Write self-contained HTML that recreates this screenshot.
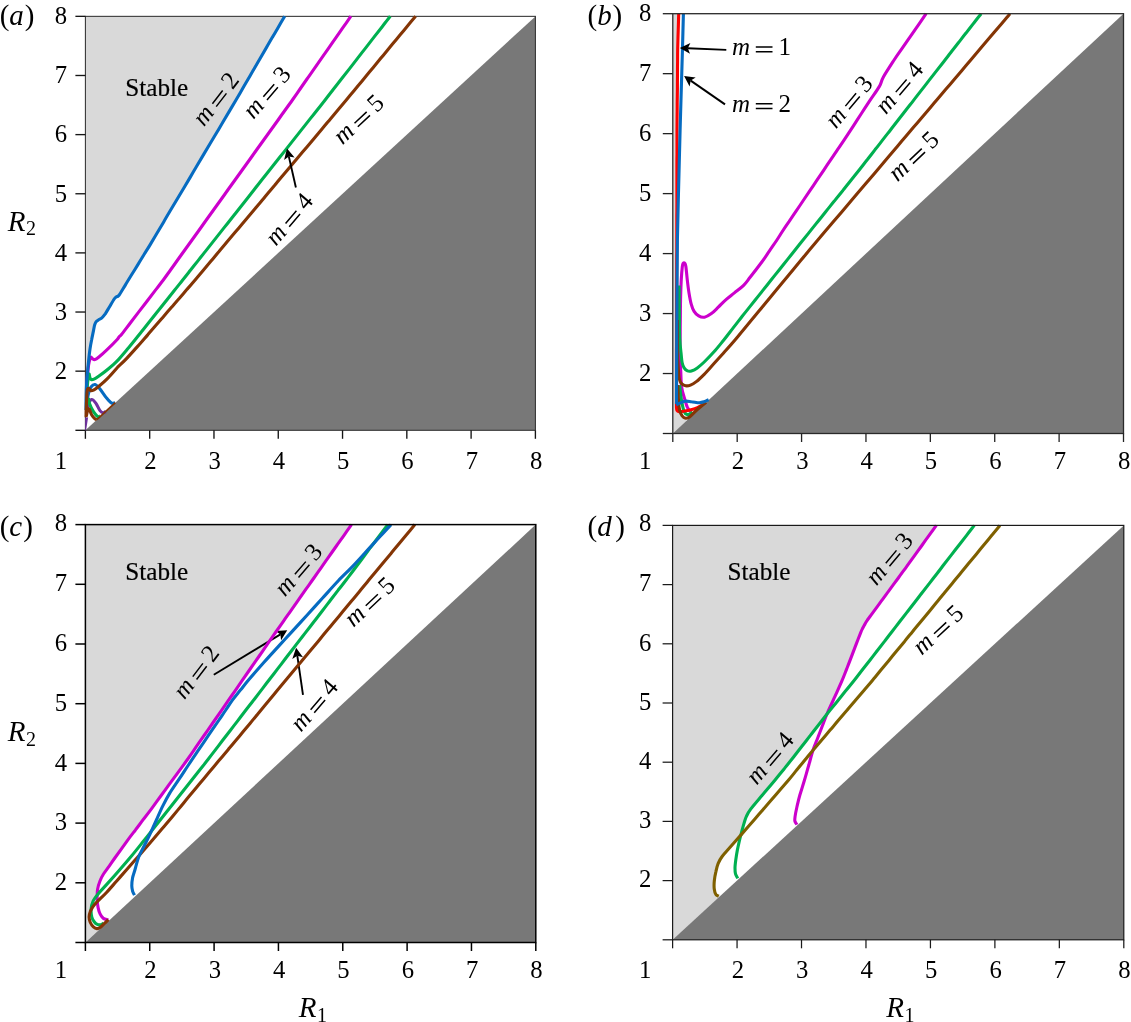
<!DOCTYPE html>
<html><head><meta charset="utf-8"><title>Stability diagrams</title>
<style>html,body{margin:0;padding:0;background:#fff}svg{display:block;will-change:transform;transform:translateZ(0)}text{font-family:"Liberation Serif", serif;fill:#000}</style></head><body>
<svg width="1131" height="1022" viewBox="0 0 1131 1022">
<rect width="1131" height="1022" fill="#fff"/>
<polygon points="85.4,16.4 284.7,16.2 236.0,100.0 150.5,244.1 119.0,295.3 116.2,296.9 114.2,299.0 109.4,307.0 105.3,313.8 101.9,317.9 98.4,319.9 96.0,321.9 94.7,324.8 93.3,331.6 91.6,340.0 90.0,349.0 88.7,359.9 87.6,371.6 86.7,381.9 86.2,394.8 86.0,410.0 85.4,430.3 85.4,16.4" fill="#d9d9d9"/>
<polygon points="85.4,430.3 535.4,16.4 535.4,430.3" fill="#787878"/>
<rect x="85.40" y="16.35" width="450.00" height="413.95" fill="none" stroke="#303030" stroke-width="1.05"/>
<line x1="85.40" y1="430.30" x2="85.40" y2="438.80" stroke="#151515" stroke-width="1.35"/>
<line x1="75.40" y1="430.30" x2="85.40" y2="430.30" stroke="#151515" stroke-width="1.35"/>
<line x1="149.69" y1="430.30" x2="149.69" y2="438.80" stroke="#151515" stroke-width="1.35"/>
<line x1="75.40" y1="371.16" x2="85.40" y2="371.16" stroke="#151515" stroke-width="1.35"/>
<line x1="213.97" y1="430.30" x2="213.97" y2="438.80" stroke="#151515" stroke-width="1.35"/>
<line x1="75.40" y1="312.03" x2="85.40" y2="312.03" stroke="#151515" stroke-width="1.35"/>
<line x1="278.26" y1="430.30" x2="278.26" y2="438.80" stroke="#151515" stroke-width="1.35"/>
<line x1="75.40" y1="252.89" x2="85.40" y2="252.89" stroke="#151515" stroke-width="1.35"/>
<line x1="342.54" y1="430.30" x2="342.54" y2="438.80" stroke="#151515" stroke-width="1.35"/>
<line x1="75.40" y1="193.76" x2="85.40" y2="193.76" stroke="#151515" stroke-width="1.35"/>
<line x1="406.83" y1="430.30" x2="406.83" y2="438.80" stroke="#151515" stroke-width="1.35"/>
<line x1="75.40" y1="134.62" x2="85.40" y2="134.62" stroke="#151515" stroke-width="1.35"/>
<line x1="471.11" y1="430.30" x2="471.11" y2="438.80" stroke="#151515" stroke-width="1.35"/>
<line x1="75.40" y1="75.49" x2="85.40" y2="75.49" stroke="#151515" stroke-width="1.35"/>
<line x1="535.40" y1="430.30" x2="535.40" y2="438.80" stroke="#151515" stroke-width="1.35"/>
<line x1="75.40" y1="16.35" x2="85.40" y2="16.35" stroke="#151515" stroke-width="1.35"/>
<text x="150.4" y="469.2" text-anchor="middle" font-size="24.7">2</text>
<text x="214.7" y="469.2" text-anchor="middle" font-size="24.7">3</text>
<text x="279.0" y="469.2" text-anchor="middle" font-size="24.7">4</text>
<text x="343.2" y="469.2" text-anchor="middle" font-size="24.7">5</text>
<text x="407.5" y="469.2" text-anchor="middle" font-size="24.7">6</text>
<text x="471.8" y="469.2" text-anchor="middle" font-size="24.7">7</text>
<text x="536.1" y="469.2" text-anchor="middle" font-size="24.7">8</text>
<text x="67.0" y="469.2" text-anchor="end" font-size="24.7">1</text>
<text x="67.0" y="378.9" text-anchor="end" font-size="24.7">2</text>
<text x="67.0" y="319.7" text-anchor="end" font-size="24.7">3</text>
<text x="67.0" y="260.6" text-anchor="end" font-size="24.7">4</text>
<text x="67.0" y="201.5" text-anchor="end" font-size="24.7">5</text>
<text x="67.0" y="142.3" text-anchor="end" font-size="24.7">6</text>
<text x="67.0" y="83.2" text-anchor="end" font-size="24.7">7</text>
<text x="67.0" y="23.5" text-anchor="end" font-size="24.7">8</text>
<path d="M350.9,16.2 C349.7,17.9 346.0,23.2 343.6,26.7 C341.1,30.2 338.7,33.7 336.3,37.1 C333.8,40.6 331.4,44.1 329.0,47.6 C326.5,51.1 324.1,54.6 321.6,58.1 C319.2,61.6 316.8,65.1 314.3,68.6 C311.9,72.1 309.5,75.6 307.0,79.0 C304.6,82.5 302.1,86.0 299.7,89.5 C297.3,93.0 294.8,96.6 292.4,100.0 C290.0,103.4 287.6,106.7 285.2,110.0 C282.8,113.3 280.4,116.7 278.1,120.0 C275.7,123.3 273.3,126.7 270.9,130.0 C268.5,133.3 266.1,136.7 263.7,140.0 C261.3,143.3 258.9,146.7 256.5,150.0 C254.1,153.3 251.8,156.7 249.4,160.0 C247.0,163.3 244.6,166.7 242.2,170.0 C239.8,173.3 237.4,176.7 235.0,180.0 C232.6,183.3 230.2,186.7 227.8,190.0 C225.5,193.3 223.1,196.7 220.7,200.0 C218.3,203.3 215.9,206.7 213.5,210.0 C211.1,213.3 208.7,216.7 206.3,220.0 C203.9,223.3 201.6,226.7 199.2,230.0 C196.8,233.3 194.4,236.7 192.0,240.0 C189.6,243.3 187.2,246.7 184.8,250.0 C182.4,253.3 180.0,256.7 177.6,260.0 C175.3,263.3 172.9,266.7 170.5,270.0 C168.1,273.3 165.9,276.5 163.3,280.0 C160.7,283.5 157.7,287.3 154.9,290.9 C152.2,294.5 149.4,298.1 146.6,301.8 C143.8,305.4 141.0,309.0 138.2,312.6 C135.4,316.3 132.6,319.9 129.9,323.5 C127.1,327.1 123.3,332.2 121.5,334.4 C119.7,336.6 119.7,336.0 119.0,336.9 C118.3,337.8 119.0,337.5 117.2,339.5 C115.4,341.5 111.0,345.9 107.9,348.8 C104.8,351.8 100.8,355.4 98.6,357.2 C96.4,359.0 95.9,359.3 94.9,359.6 C93.9,359.9 93.2,359.2 92.6,358.8 C91.9,358.4 91.5,356.9 91.0,357.0 C90.5,357.1 90.2,358.2 89.8,359.5 C89.4,360.8 89.0,362.6 88.6,365.0 C88.2,367.4 87.9,370.5 87.6,374.0 C87.3,377.5 86.9,384.0 86.8,386.0" fill="none" stroke="#cc00cc" stroke-width="3.10" stroke-linecap="butt" stroke-linejoin="round"/>
<path d="M390.3,16.2 C388.9,17.9 384.9,23.2 382.2,26.7 C379.4,30.2 376.7,33.7 374.0,37.1 C371.3,40.6 368.6,44.1 365.9,47.6 C363.1,51.1 360.4,54.6 357.7,58.1 C355.0,61.6 352.3,65.1 349.6,68.6 C346.8,72.1 344.1,75.6 341.4,79.0 C338.7,82.5 336.0,86.0 333.2,89.5 C330.5,93.0 327.7,96.7 325.1,100.0 C322.5,103.3 320.1,106.3 317.6,109.5 C315.1,112.6 312.6,115.8 310.1,118.9 C307.6,122.1 305.1,125.3 302.6,128.4 C300.1,131.6 297.6,134.7 295.1,137.9 C292.6,141.1 290.1,144.2 287.6,147.4 C285.1,150.5 282.6,153.7 280.1,156.8 C277.6,160.0 275.1,163.2 272.6,166.3 C270.1,169.5 267.6,172.6 265.1,175.8 C262.6,178.9 260.1,182.1 257.6,185.3 C255.1,188.4 252.7,191.6 250.2,194.7 C247.7,197.9 245.2,201.1 242.7,204.2 C240.2,207.4 237.7,210.5 235.2,213.7 C232.7,216.8 230.2,220.0 227.7,223.2 C225.2,226.3 222.7,229.5 220.2,232.6 C217.7,235.8 215.2,238.9 212.7,242.1 C210.2,245.3 207.7,248.4 205.2,251.6 C202.7,254.7 200.2,257.9 197.7,261.1 C195.2,264.2 192.7,267.4 190.2,270.5 C187.7,273.7 185.3,276.8 182.7,280.0 C180.1,283.2 177.4,286.7 174.7,290.0 C172.1,293.3 169.4,296.7 166.8,300.0 C164.1,303.3 161.5,306.7 158.8,310.0 C156.1,313.3 153.5,316.7 150.8,320.0 C148.2,323.3 145.5,326.7 142.9,330.0 C140.2,333.3 137.6,336.6 134.9,340.0 C132.2,343.4 129.4,346.7 126.5,350.2 C123.5,353.7 120.3,357.7 117.2,360.9 C114.1,364.1 111.0,366.7 107.9,369.3 C104.8,371.9 100.9,374.7 98.6,376.3 C96.3,377.9 95.2,378.6 94.0,379.1 C92.8,379.6 91.9,379.8 91.2,379.5 C90.5,379.2 90.1,378.1 89.8,377.2 C89.5,376.3 89.4,374.1 89.2,374.0 C89.0,373.9 88.7,375.0 88.4,376.5 C88.1,378.0 87.9,380.1 87.6,383.0 C87.3,385.9 86.9,392.2 86.8,394.0" fill="none" stroke="#00b050" stroke-width="3.10" stroke-linecap="butt" stroke-linejoin="round"/>
<path d="M284.7,16.2 C283.7,17.9 280.6,23.2 278.6,26.7 C276.6,30.2 274.6,33.7 272.5,37.1 C270.5,40.6 268.5,44.1 266.4,47.6 C264.4,51.1 262.4,54.6 260.4,58.1 C258.3,61.6 256.3,65.1 254.3,68.6 C252.2,72.1 250.2,75.6 248.2,79.0 C246.1,82.5 244.1,86.0 242.1,89.5 C240.1,93.0 238.1,96.4 236.0,100.0 C233.9,103.6 231.6,107.4 229.4,111.1 C227.2,114.8 225.0,118.5 222.8,122.2 C220.7,125.9 218.5,129.6 216.3,133.3 C214.1,136.9 211.9,140.6 209.7,144.3 C207.5,148.0 205.3,151.7 203.1,155.4 C200.9,159.1 198.7,162.8 196.5,166.5 C194.3,170.2 192.2,173.9 190.0,177.6 C187.8,181.3 185.6,185.0 183.4,188.7 C181.2,192.4 179.0,196.1 176.8,199.8 C174.6,203.5 172.4,207.2 170.2,210.8 C168.0,214.5 165.8,218.2 163.7,221.9 C161.5,225.6 159.3,229.3 157.1,233.0 C154.9,236.7 152.6,240.5 150.5,244.1 C148.4,247.7 146.3,250.9 144.2,254.3 C142.1,257.8 140.0,261.2 137.9,264.6 C135.8,268.0 133.7,271.4 131.6,274.8 C129.5,278.2 127.4,281.6 125.3,285.1 C123.2,288.5 120.5,293.3 119.0,295.3 C117.5,297.3 117.0,296.3 116.2,296.9 C115.4,297.5 115.3,297.3 114.2,299.0 C113.1,300.7 110.9,304.5 109.4,307.0 C107.9,309.5 106.5,312.0 105.3,313.8 C104.0,315.6 103.1,316.9 101.9,317.9 C100.8,318.9 99.4,319.2 98.4,319.9 C97.4,320.6 96.6,321.1 96.0,321.9 C95.4,322.7 95.2,323.2 94.7,324.8 C94.2,326.4 93.8,329.1 93.3,331.6 C92.8,334.1 92.1,337.1 91.6,340.0 C91.0,342.9 90.5,345.7 90.0,349.0 C89.5,352.3 89.1,356.1 88.7,359.9 C88.3,363.7 87.9,367.9 87.6,371.6 C87.3,375.3 86.9,378.0 86.7,381.9 C86.5,385.8 86.3,390.1 86.2,394.8 C86.1,399.5 86.0,407.5 86.0,410.0" fill="none" stroke="#066bc1" stroke-width="3.10" stroke-linecap="butt" stroke-linejoin="round"/>
<path d="M87.0,402.0 C87.3,400.5 87.9,395.5 88.6,393.0 C89.3,390.5 89.9,388.4 91.0,387.0 C92.1,385.6 93.5,384.2 95.0,384.5 C96.5,384.8 98.1,386.7 100.0,389.0 C101.9,391.3 104.7,395.8 106.6,398.1 C108.5,400.5 110.2,402.4 111.6,403.1 C113.0,403.9 114.4,402.7 114.9,402.6" fill="none" stroke="#066bc1" stroke-width="3.10" stroke-linecap="butt" stroke-linejoin="round"/>
<path d="M86.6,413.0 C86.9,411.7 87.4,407.2 88.2,405.0 C89.0,402.8 90.3,399.8 91.6,399.5 C92.9,399.2 94.4,401.2 95.8,403.1 C97.2,405.0 98.8,409.0 100.0,410.6 C101.2,412.2 102.3,412.7 103.3,412.8 C104.3,412.9 105.4,411.6 105.8,411.4" fill="none" stroke="#7030a0" stroke-width="3.10" stroke-linecap="butt" stroke-linejoin="round"/>
<path d="M88.4,398.0 C88.6,398.9 88.5,400.9 89.3,403.1 C90.1,405.3 91.9,409.2 93.3,411.4 C94.7,413.6 96.4,415.6 97.5,416.4 C98.6,417.2 99.6,416.1 100.0,416.0" fill="none" stroke="#00b050" stroke-width="3.10" stroke-linecap="butt" stroke-linejoin="round"/>
<path d="M415.6,16.2 C414.3,17.8 410.5,22.4 407.9,25.5 C405.3,28.6 402.8,31.7 400.2,34.8 C397.6,37.9 395.1,41.0 392.5,44.1 C389.9,47.2 387.4,50.3 384.8,53.4 C382.2,56.5 379.7,59.7 377.1,62.8 C374.5,65.9 372.0,69.0 369.4,72.1 C366.8,75.2 364.3,78.3 361.7,81.4 C359.1,84.5 356.6,87.6 354.0,90.7 C351.4,93.8 348.9,96.9 346.3,100.0 C343.7,103.1 341.0,106.3 338.3,109.5 C335.7,112.6 333.0,115.8 330.4,118.9 C327.7,122.1 325.1,125.3 322.4,128.4 C319.8,131.6 317.1,134.7 314.5,137.9 C311.8,141.1 309.2,144.2 306.5,147.4 C303.9,150.5 301.2,153.7 298.6,156.8 C295.9,160.0 293.2,163.2 290.6,166.3 C287.9,169.5 285.3,172.6 282.6,175.8 C280.0,178.9 277.3,182.1 274.7,185.3 C272.0,188.4 269.4,191.6 266.7,194.7 C264.1,197.9 261.4,201.1 258.8,204.2 C256.1,207.4 253.5,210.5 250.8,213.7 C248.2,216.8 245.5,220.0 242.8,223.2 C240.2,226.3 237.5,229.5 234.9,232.6 C232.2,235.8 229.6,238.9 226.9,242.1 C224.3,245.3 221.6,248.4 219.0,251.6 C216.3,254.7 213.7,257.9 211.0,261.1 C208.4,264.2 205.7,267.4 203.1,270.5 C200.4,273.7 197.7,276.9 195.1,280.0 C192.5,283.1 189.9,286.1 187.2,289.1 C184.6,292.1 182.0,295.2 179.4,298.2 C176.7,301.2 174.1,304.3 171.5,307.3 C168.9,310.3 166.2,313.4 163.6,316.4 C161.0,319.4 158.4,322.5 155.7,325.5 C153.1,328.5 150.5,331.6 147.9,334.6 C145.2,337.6 143.6,339.7 140.0,343.7 C136.4,347.7 130.1,354.8 126.5,358.6 C122.9,362.4 119.8,365.0 118.2,366.6 C116.6,368.2 118.5,366.3 116.8,368.2 C115.1,370.1 110.9,375.1 107.9,378.1 C104.9,381.2 100.9,384.6 98.6,386.5 C96.3,388.4 95.3,389.1 94.0,389.8 C92.7,390.5 91.5,390.9 90.7,390.7 C89.9,390.5 89.8,389.0 89.3,388.6 C88.8,388.2 88.3,388.0 87.9,388.6 C87.5,389.2 87.2,389.4 87.0,392.1 C86.8,394.9 86.6,400.9 86.4,405.1 C86.2,409.3 86.1,415.2 86.1,417.2" fill="none" stroke="#843505" stroke-width="3.10" stroke-linecap="butt" stroke-linejoin="round"/>
<path d="M86.4,416.0 C86.6,415.1 87.1,411.7 87.6,410.5 C88.0,409.3 88.4,408.2 89.1,408.9 C89.8,409.6 90.6,413.1 91.6,414.8 C92.6,416.5 94.1,418.1 95.0,418.9 C95.9,419.7 96.5,419.5 96.8,419.6" fill="none" stroke="#843505" stroke-width="3.10" stroke-linecap="butt" stroke-linejoin="round"/>
<path d="M96.8,419.6 L115.3,402.6" fill="none" stroke="#843505" stroke-width="1.80" stroke-linecap="butt" stroke-linejoin="round"/>
<polygon points="85.2,417.5 88.1,417.5 86.1,430.3 85.2,430.3" fill="#7030a0"/>
<text x="125.3" y="96.0" font-size="25.2" stroke="#000" stroke-width="0.2">Stable</text>
<g transform="translate(203.9,127.3) rotate(-52.3)">
<text x="0" y="0" font-style="italic" font-size="25">m</text>
<path d="M23.9,-7.7 H40.6 M23.9,-2.9 H40.6" stroke="#000" stroke-width="1.5" fill="none"/>
<text x="46.7" y="0" font-size="25">2</text>
</g>
<g transform="translate(253.6,120.0) rotate(-49.3)">
<text x="0" y="0" font-style="italic" font-size="25">m</text>
<path d="M23.9,-7.7 H40.6 M23.9,-2.9 H40.6" stroke="#000" stroke-width="1.5" fill="none"/>
<text x="46.7" y="0" font-size="25">3</text>
</g>
<g transform="translate(342.4,145.3) rotate(-43.3)">
<text x="0" y="0" font-style="italic" font-size="25">m</text>
<path d="M23.9,-7.7 H40.6 M23.9,-2.9 H40.6" stroke="#000" stroke-width="1.5" fill="none"/>
<text x="46.7" y="0" font-size="25">5</text>
</g>
<g transform="translate(275.9,246.7) rotate(-49.5)">
<text x="0" y="0" font-style="italic" font-size="25">m</text>
<path d="M23.9,-7.7 H40.6 M23.9,-2.9 H40.6" stroke="#000" stroke-width="1.5" fill="none"/>
<text x="46.7" y="0" font-size="25">4</text>
</g>
<line x1="295.9" y1="187.5" x2="288.8" y2="156.4" stroke="#000" stroke-width="1.90"/>
<polygon points="287.0,148.6 294.6,157.5 288.8,156.4 284.1,159.9" fill="#000"/>
<polygon points="672.8,13.7 678.7,13.7 676.8,240.0 676.5,400.0 676.7,410.9 682.6,416.0 686.5,420.8 672.8,433.5" fill="#d9d9d9"/>
<polygon points="672.8,433.5 1123.5,13.7 1123.5,433.5" fill="#787878"/>
<path d="M926.1,13.7 C924.8,15.6 920.8,21.4 918.1,25.3 C915.4,29.1 912.8,33.0 910.1,36.8 C907.4,40.7 904.8,44.6 902.1,48.4 C899.4,52.3 897.2,55.2 894.1,60.0 C891.0,64.8 885.9,72.6 883.4,77.0 C880.9,81.4 881.7,82.5 879.4,86.4 C877.1,90.4 872.8,96.2 869.8,100.7 C866.8,105.2 864.2,109.2 861.4,113.5 C858.6,117.8 855.9,122.0 853.1,126.3 C850.3,130.6 847.3,135.2 844.7,139.1 C842.1,143.0 840.1,146.0 837.7,149.4 C835.4,152.9 833.1,156.3 830.8,159.7 C828.4,163.2 826.1,166.6 823.8,170.1 C821.5,173.5 819.2,176.9 816.8,180.4 C814.5,183.8 812.2,187.3 809.9,190.7 C807.5,194.2 805.2,197.6 802.9,201.0 C800.6,204.5 798.3,207.9 795.9,211.4 C793.6,214.8 791.3,218.2 789.0,221.7 C786.6,225.1 784.0,228.9 782.0,232.0 C780.0,235.1 779.0,236.8 776.9,240.0 C774.8,243.2 771.9,247.3 769.5,250.9 C767.0,254.5 765.2,257.5 762.0,261.8 C758.8,266.1 753.6,272.9 750.5,276.8 C747.4,280.7 746.3,282.7 743.6,285.4 C740.9,288.1 737.5,290.4 734.4,292.9 C731.3,295.4 727.9,297.9 725.2,300.3 C722.5,302.7 720.6,305.0 718.3,307.2 C716.0,309.4 713.7,311.9 711.4,313.6 C709.1,315.3 706.6,316.8 704.5,317.2 C702.4,317.6 700.4,316.9 698.7,315.9 C697.0,314.9 695.3,313.2 694.1,311.3 C692.9,309.4 692.1,307.5 691.3,304.4 C690.4,301.3 689.7,297.1 689.0,292.9 C688.3,288.7 687.7,283.5 687.2,279.1 C686.7,274.8 686.3,269.4 685.9,266.8 C685.5,264.2 685.2,264.1 684.9,263.4 C684.6,262.7 684.3,262.8 684.0,262.8 C683.7,262.8 683.4,262.7 683.1,263.4 C682.8,264.1 682.6,264.2 682.3,266.8 C682.0,269.4 681.6,274.0 681.3,279.1 C681.0,284.2 680.8,290.6 680.6,297.5 C680.4,304.4 680.4,314.6 680.3,320.5 C680.2,326.4 680.2,328.7 680.2,332.8 C680.1,336.9 680.1,341.0 680.0,345.1 C680.0,349.2 679.8,352.9 679.9,357.4 C680.0,361.9 680.5,367.3 680.8,372.2 C681.0,377.1 681.0,382.6 681.6,387.0 C682.2,391.4 683.6,395.4 684.6,398.8 C685.6,402.2 686.4,405.4 687.5,407.6 C688.6,409.8 690.4,411.3 691.0,412.0" fill="none" stroke="#cc00cc" stroke-width="3.10" stroke-linecap="butt" stroke-linejoin="round"/>
<path d="M981.1,13.7 C979.8,15.3 976.1,20.2 973.5,23.4 C971.0,26.6 968.5,29.9 966.0,33.1 C963.4,36.3 960.9,39.6 958.4,42.8 C955.9,46.1 953.3,49.3 950.8,52.5 C948.3,55.8 945.8,59.0 943.3,62.2 C940.7,65.5 938.2,68.7 935.7,71.9 C933.2,75.2 930.6,78.4 928.1,81.6 C925.6,84.9 923.1,88.1 920.5,91.4 C918.0,94.6 915.5,97.8 913.0,101.1 C910.5,104.3 907.9,107.5 905.4,110.8 C902.9,114.0 900.4,117.2 897.8,120.5 C895.3,123.7 892.8,126.9 890.3,130.2 C887.8,133.4 885.2,136.6 882.7,139.9 C880.2,143.1 877.7,146.4 875.1,149.6 C872.6,152.8 870.1,156.1 867.6,159.3 C865.0,162.5 862.7,165.6 860.0,169.0 C857.3,172.4 854.3,176.1 851.4,179.7 C848.6,183.2 845.7,186.8 842.9,190.4 C840.0,193.9 837.1,197.5 834.3,201.1 C831.4,204.6 828.6,208.2 825.7,211.7 C822.9,215.3 820.0,218.9 817.1,222.4 C814.3,226.0 811.4,229.6 808.6,233.1 C805.7,236.7 802.8,240.3 800.0,243.8 C797.2,247.3 794.5,250.7 791.7,254.2 C789.0,257.6 786.2,261.1 783.5,264.5 C780.7,268.0 778.0,271.4 775.2,274.9 C772.5,278.3 769.7,281.8 767.0,285.2 C764.2,288.7 761.5,292.1 758.7,295.6 C756.0,299.0 753.2,302.5 750.5,305.9 C747.7,309.4 745.1,312.6 742.2,316.3 C739.3,320.0 736.1,324.2 733.0,328.1 C729.9,332.1 727.0,336.1 723.8,340.0 C720.6,343.9 717.3,348.1 714.0,351.8 C710.7,355.5 707.0,359.3 704.2,362.0 C701.4,364.7 699.4,366.4 697.3,367.9 C695.2,369.4 693.0,370.4 691.4,370.9 C689.8,371.4 688.7,371.4 687.5,370.9 C686.3,370.4 685.0,369.3 684.1,367.9 C683.2,366.5 682.6,364.7 682.1,362.5 C681.6,360.3 681.5,357.6 681.2,354.7 C680.9,351.8 680.5,348.5 680.2,344.9 C679.9,341.2 679.6,337.4 679.5,332.8 C679.4,328.2 679.4,322.3 679.4,317.0 C679.3,311.8 679.3,306.5 679.2,301.3 C679.2,296.0 679.1,288.1 679.1,285.5" fill="none" stroke="#00b050" stroke-width="3.10" stroke-linecap="butt" stroke-linejoin="round"/>
<path d="M679.7,385.1 C679.9,386.7 680.3,391.7 680.7,394.8 C681.1,397.9 681.5,400.9 682.1,403.7 C682.7,406.5 683.3,409.7 684.1,411.5 C684.9,413.3 685.9,414.3 687.0,414.6 C688.1,414.9 689.6,413.9 690.5,413.5 C691.4,413.1 692.2,412.2 692.5,411.9" fill="none" stroke="#00b050" stroke-width="3.10" stroke-linecap="butt" stroke-linejoin="round"/>
<path d="M678.7,13.7 C678.6,16.6 678.4,25.1 678.2,30.8 C678.0,36.6 677.8,42.9 677.7,48.0 C677.6,53.1 677.6,57.1 677.6,61.7 C677.5,66.2 677.5,70.8 677.5,75.3 C677.4,79.9 677.4,84.4 677.4,89.0 C677.3,93.6 677.3,98.1 677.2,102.7 C677.2,107.2 677.2,111.8 677.1,116.3 C677.1,120.9 677.0,125.7 677.0,130.0 C677.0,134.3 677.0,138.1 677.0,142.2 C677.0,146.3 677.0,150.4 677.0,154.4 C676.9,158.5 676.9,162.6 676.9,166.7 C676.9,170.7 676.9,174.8 676.9,178.9 C676.9,183.0 676.9,187.0 676.9,191.1 C676.9,195.2 676.9,199.3 676.9,203.3 C676.9,207.4 676.9,211.5 676.8,215.6 C676.8,219.6 676.8,223.7 676.8,227.8 C676.8,231.9 676.8,236.0 676.8,240.0 C676.8,244.0 676.8,248.0 676.8,252.0 C676.7,256.0 676.7,260.0 676.7,264.0 C676.7,268.0 676.7,272.0 676.7,276.0 C676.7,280.0 676.7,284.0 676.6,288.0 C676.6,292.0 676.6,295.9 676.6,300.0 C676.6,304.1 676.6,308.3 676.6,312.5 C676.6,316.7 676.6,320.8 676.6,325.0 C676.6,329.2 676.6,333.3 676.6,337.5 C676.6,341.7 676.6,345.8 676.5,350.0 C676.5,354.2 676.5,358.3 676.5,362.5 C676.5,366.7 676.5,370.8 676.5,375.0 C676.5,379.2 676.5,383.3 676.5,387.5 C676.5,391.7 676.5,396.7 676.5,400.0 C676.5,403.3 676.4,405.7 676.5,407.5 C676.6,409.3 676.6,409.9 677.0,410.6 C677.4,411.3 677.7,411.5 679.0,411.6 C680.3,411.7 682.8,411.4 685.0,411.0 C687.2,410.6 689.8,410.1 692.0,409.5 C694.2,408.9 696.4,408.0 698.0,407.3 C699.6,406.6 700.9,405.8 701.5,405.5" fill="none" stroke="#ff0000" stroke-width="3.10" stroke-linecap="butt" stroke-linejoin="round"/>
<path d="M1010.0,13.7 C1008.7,15.3 1004.7,20.0 1002.0,23.2 C999.3,26.3 996.6,29.5 994.0,32.6 C991.3,35.8 988.6,38.9 985.9,42.1 C983.3,45.2 980.6,48.4 977.9,51.5 C975.2,54.7 972.6,57.8 969.9,61.0 C967.2,64.1 964.5,67.3 961.9,70.4 C959.2,73.6 956.5,76.7 953.8,79.9 C951.2,83.0 948.5,86.2 945.8,89.3 C943.1,92.5 940.5,95.6 937.8,98.8 C935.1,101.9 932.4,105.1 929.8,108.2 C927.1,111.4 924.4,114.5 921.7,117.7 C919.1,120.8 916.4,124.0 913.7,127.1 C911.0,130.3 908.4,133.4 905.7,136.6 C903.0,139.7 900.3,142.9 897.7,146.0 C895.0,149.2 892.3,152.3 889.6,155.5 C887.0,158.6 884.3,161.8 881.6,164.9 C878.9,168.1 876.3,171.2 873.6,174.4 C870.9,177.5 868.2,180.7 865.6,183.8 C862.9,187.0 860.2,190.1 857.5,193.3 C854.9,196.4 852.2,199.6 849.5,202.7 C846.8,205.9 844.2,209.0 841.5,212.2 C838.8,215.3 836.1,218.5 833.5,221.6 C830.8,224.8 828.1,227.9 825.4,231.1 C822.8,234.2 820.1,237.4 817.4,240.5 C814.7,243.7 812.1,246.8 809.4,250.0 C806.7,253.2 803.9,256.7 801.1,260.0 C798.4,263.3 795.6,266.7 792.9,270.0 C790.1,273.3 787.4,276.7 784.6,280.0 C781.8,283.3 779.1,286.7 776.3,290.0 C773.6,293.3 770.8,296.7 768.1,300.0 C765.3,303.3 762.6,306.7 759.8,310.0 C757.0,313.3 754.3,316.7 751.5,320.0 C748.8,323.3 746.0,326.7 743.3,330.0 C740.5,333.3 738.2,336.2 735.0,340.0 C731.8,343.8 727.3,348.8 723.8,352.7 C720.3,356.6 717.3,359.9 714.0,363.5 C710.7,367.1 707.2,371.3 704.2,374.3 C701.2,377.3 698.6,379.8 696.3,381.6 C694.0,383.4 692.3,384.4 690.5,385.1 C688.7,385.8 687.1,386.1 685.6,385.8 C684.1,385.6 682.6,384.5 681.6,383.6 C680.6,382.7 680.2,381.8 679.7,380.2 C679.2,378.6 679.1,378.8 678.7,374.3 C678.4,369.8 677.8,359.6 677.6,353.3 C677.4,347.0 677.5,342.2 677.5,336.6 C677.5,331.1 677.4,322.8 677.4,320.0" fill="none" stroke="#843505" stroke-width="3.10" stroke-linecap="butt" stroke-linejoin="round"/>
<path d="M677.8,385.0 C677.9,386.8 678.1,392.9 678.3,396.0 C678.4,399.1 678.5,401.3 678.7,403.7 C678.9,406.1 679.1,408.5 679.7,410.5 C680.3,412.5 681.1,414.6 682.1,415.9 C683.1,417.2 684.4,418.0 685.6,418.2 C686.8,418.4 687.5,418.3 689.5,416.9 C691.5,415.4 694.5,411.9 697.3,409.5 C700.1,407.1 704.6,403.4 706.1,402.2" fill="none" stroke="#843505" stroke-width="3.10" stroke-linecap="butt" stroke-linejoin="round"/>
<path d="M683.4,13.7 L682.5,48.0 L680.1,130.0 L678.3,200.0 L677.4,240.0 L676.9,300.0 L676.5,395.0 L676.5,404.0" fill="none" stroke="#066bc1" stroke-width="3.10" stroke-linecap="butt" stroke-linejoin="round"/>
<path d="M676.2,404.6 C676.5,404.5 676.3,404.8 677.7,404.2 C679.1,403.6 682.3,401.6 684.6,401.2 C686.9,400.8 689.0,401.4 691.4,401.7 C693.8,401.9 697.2,402.7 699.3,402.7 C701.4,402.7 702.7,402.2 704.2,401.7 C705.8,401.2 707.9,400.0 708.6,399.7" fill="none" stroke="#066bc1" stroke-width="3.10" stroke-linecap="butt" stroke-linejoin="round"/>
<rect x="672.80" y="13.70" width="450.70" height="419.80" fill="none" stroke="#2a2a2a" stroke-width="1.30"/>
<line x1="672.80" y1="433.50" x2="672.80" y2="442.00" stroke="#222" stroke-width="1.30"/>
<line x1="662.80" y1="433.50" x2="672.80" y2="433.50" stroke="#222" stroke-width="1.30"/>
<line x1="737.19" y1="433.50" x2="737.19" y2="442.00" stroke="#222" stroke-width="1.30"/>
<line x1="662.80" y1="373.53" x2="672.80" y2="373.53" stroke="#222" stroke-width="1.30"/>
<line x1="801.57" y1="433.50" x2="801.57" y2="442.00" stroke="#222" stroke-width="1.30"/>
<line x1="662.80" y1="313.56" x2="672.80" y2="313.56" stroke="#222" stroke-width="1.30"/>
<line x1="865.96" y1="433.50" x2="865.96" y2="442.00" stroke="#222" stroke-width="1.30"/>
<line x1="662.80" y1="253.59" x2="672.80" y2="253.59" stroke="#222" stroke-width="1.30"/>
<line x1="930.34" y1="433.50" x2="930.34" y2="442.00" stroke="#222" stroke-width="1.30"/>
<line x1="662.80" y1="193.61" x2="672.80" y2="193.61" stroke="#222" stroke-width="1.30"/>
<line x1="994.73" y1="433.50" x2="994.73" y2="442.00" stroke="#222" stroke-width="1.30"/>
<line x1="662.80" y1="133.64" x2="672.80" y2="133.64" stroke="#222" stroke-width="1.30"/>
<line x1="1059.11" y1="433.50" x2="1059.11" y2="442.00" stroke="#222" stroke-width="1.30"/>
<line x1="662.80" y1="73.67" x2="672.80" y2="73.67" stroke="#222" stroke-width="1.30"/>
<line x1="1123.50" y1="433.50" x2="1123.50" y2="442.00" stroke="#222" stroke-width="1.30"/>
<line x1="662.80" y1="13.70" x2="672.80" y2="13.70" stroke="#222" stroke-width="1.30"/>
<text x="737.9" y="469.2" text-anchor="middle" font-size="24.7">2</text>
<text x="802.3" y="469.2" text-anchor="middle" font-size="24.7">3</text>
<text x="866.7" y="469.2" text-anchor="middle" font-size="24.7">4</text>
<text x="931.0" y="469.2" text-anchor="middle" font-size="24.7">5</text>
<text x="995.4" y="469.2" text-anchor="middle" font-size="24.7">6</text>
<text x="1059.8" y="469.2" text-anchor="middle" font-size="24.7">7</text>
<text x="1124.2" y="469.2" text-anchor="middle" font-size="24.7">8</text>
<text x="651.3" y="469.2" text-anchor="end" font-size="24.7">1</text>
<text x="651.3" y="381.2" text-anchor="end" font-size="24.7">2</text>
<text x="651.3" y="321.3" text-anchor="end" font-size="24.7">3</text>
<text x="651.3" y="261.3" text-anchor="end" font-size="24.7">4</text>
<text x="651.3" y="201.3" text-anchor="end" font-size="24.7">5</text>
<text x="651.3" y="141.3" text-anchor="end" font-size="24.7">6</text>
<text x="651.3" y="81.4" text-anchor="end" font-size="24.7">7</text>
<text x="651.3" y="21.4" text-anchor="end" font-size="24.7">8</text>
<g transform="translate(731.9,54.7) rotate(0.0)">
<text x="0" y="0" font-style="italic" font-size="25">m</text>
<path d="M23.9,-7.7 H40.6 M23.9,-2.9 H40.6" stroke="#000" stroke-width="1.5" fill="none"/>
<text x="46.7" y="0" font-size="25">1</text>
</g>
<g transform="translate(731.9,111.5) rotate(0.0)">
<text x="0" y="0" font-style="italic" font-size="25">m</text>
<path d="M23.9,-7.7 H40.6 M23.9,-2.9 H40.6" stroke="#000" stroke-width="1.5" fill="none"/>
<text x="46.7" y="0" font-size="25">2</text>
</g>
<line x1="726.3" y1="49.9" x2="687.8" y2="48.2" stroke="#000" stroke-width="1.90"/>
<polygon points="679.8,47.9 690.4,43.0 687.8,48.2 690.0,53.7" fill="#000"/>
<line x1="725.0" y1="104.4" x2="690.7" y2="80.6" stroke="#000" stroke-width="1.90"/>
<polygon points="684.1,76.0 695.7,77.5 690.7,80.6 689.6,86.4" fill="#000"/>
<g transform="translate(835.9,129.4) rotate(-50.0)">
<text x="0" y="0" font-style="italic" font-size="25">m</text>
<path d="M23.9,-7.7 H40.6 M23.9,-2.9 H40.6" stroke="#000" stroke-width="1.5" fill="none"/>
<text x="46.7" y="0" font-size="25">3</text>
</g>
<g transform="translate(886.1,115.3) rotate(-49.5)">
<text x="0" y="0" font-style="italic" font-size="25">m</text>
<path d="M23.9,-7.7 H40.6 M23.9,-2.9 H40.6" stroke="#000" stroke-width="1.5" fill="none"/>
<text x="46.7" y="0" font-size="25">4</text>
</g>
<g transform="translate(897.6,182.2) rotate(-43.5)">
<text x="0" y="0" font-style="italic" font-size="25">m</text>
<path d="M23.9,-7.7 H40.6 M23.9,-2.9 H40.6" stroke="#000" stroke-width="1.5" fill="none"/>
<text x="46.7" y="0" font-size="25">5</text>
</g>
<polygon points="85.4,524.6 351.5,524.6 276.2,631.5 187.1,760.0 151.8,808.3 127.0,841.1 115.2,857.5 109.4,865.8 103.5,874.0 100.0,881.0 97.6,889.2 96.5,895.5 93.0,901.3 91.5,906.5 90.3,911.5 89.1,917.0 90.3,922.5 93.4,926.8 96.9,928.6 99.0,929.8 85.4,942.5" fill="#d9d9d9"/>
<polygon points="85.4,942.5 535.8,524.6 535.8,942.5" fill="#787878"/>
<line x1="213.8" y1="674.8" x2="280.4" y2="634.4" stroke="#000" stroke-width="1.90"/>
<polygon points="287.2,630.2 281.1,640.2 280.4,634.4 275.5,631.0" fill="#000"/>
<line x1="303.0" y1="694.9" x2="297.3" y2="655.7" stroke="#000" stroke-width="1.90"/>
<polygon points="296.1,647.8 303.0,657.3 297.3,655.7 292.3,658.9" fill="#000"/>
<path d="M351.5,524.6 C350.2,526.4 346.5,531.7 344.0,535.3 C341.5,538.9 338.9,542.4 336.4,546.0 C333.9,549.5 331.4,553.1 328.9,556.7 C326.4,560.2 323.9,563.8 321.4,567.4 C318.9,570.9 316.4,574.5 313.9,578.0 C311.3,581.6 308.8,585.2 306.3,588.7 C303.8,592.3 301.3,595.9 298.8,599.4 C296.3,603.0 293.8,606.6 291.3,610.1 C288.8,613.7 286.2,617.2 283.7,620.8 C281.2,624.4 278.6,628.1 276.2,631.5 C273.8,634.9 271.6,638.1 269.3,641.4 C267.1,644.7 264.8,648.0 262.5,651.3 C260.2,654.6 257.9,657.9 255.6,661.2 C253.4,664.4 251.1,667.7 248.8,671.0 C246.5,674.3 244.2,677.6 241.9,680.9 C239.6,684.2 237.4,687.5 235.1,690.8 C232.8,694.1 230.5,697.4 228.2,700.7 C225.9,704.0 223.7,707.3 221.4,710.6 C219.1,713.9 216.8,717.2 214.5,720.5 C212.2,723.8 209.9,727.1 207.7,730.3 C205.4,733.6 203.1,736.9 200.8,740.2 C198.5,743.5 196.2,746.8 194.0,750.1 C191.7,753.4 189.7,756.3 187.1,760.0 C184.5,763.7 181.2,768.1 178.3,772.1 C175.3,776.1 172.4,780.1 169.4,784.1 C166.5,788.2 163.6,792.2 160.6,796.2 C157.7,800.2 154.6,804.5 151.8,808.3 C149.0,812.1 146.3,815.6 143.5,819.2 C140.8,822.9 138.0,826.5 135.3,830.2 C132.5,833.8 130.3,836.5 127.0,841.1 C123.7,845.7 118.1,853.4 115.2,857.5 C112.3,861.6 111.4,863.0 109.4,865.8 C107.5,868.5 105.1,871.5 103.5,874.0 C101.9,876.5 101.0,878.5 100.0,881.0 C99.0,883.5 98.1,886.1 97.6,889.2 C97.1,892.3 97.1,896.7 97.2,899.8 C97.3,902.9 97.6,905.2 98.1,907.6 C98.6,910.0 99.2,912.1 100.1,913.9 C100.9,915.7 102.0,917.2 103.2,918.2 C104.4,919.2 106.2,919.5 107.1,919.7 C108.0,919.9 108.3,919.6 108.5,919.6" fill="none" stroke="#cc00cc" stroke-width="3.10" stroke-linecap="butt" stroke-linejoin="round"/>
<path d="M387.8,524.6 C386.3,526.6 381.7,532.6 378.7,536.7 C375.7,540.7 372.4,544.9 369.6,548.7 C366.8,552.5 364.4,555.7 361.8,559.2 C359.1,562.8 356.5,566.3 353.9,569.8 C351.3,573.3 348.7,576.6 346.1,580.0 C343.5,583.4 340.9,586.8 338.2,590.1 C335.6,593.5 333.0,596.9 330.4,600.3 C327.8,603.7 325.4,606.9 322.6,610.5 C319.8,614.1 316.7,618.1 313.7,622.0 C310.8,625.8 307.8,629.6 304.9,633.4 C301.9,637.3 298.7,641.4 296.0,644.9 C293.3,648.4 291.1,651.3 288.6,654.5 C286.2,657.7 283.7,660.9 281.3,664.1 C278.8,667.3 276.4,670.5 273.9,673.7 C271.4,676.9 269.0,680.1 266.5,683.3 C264.1,686.5 261.6,689.7 259.2,692.9 C256.7,696.1 254.3,699.3 251.8,702.5 C249.3,705.6 246.9,708.8 244.4,712.0 C242.0,715.2 239.5,718.4 237.1,721.6 C234.6,724.8 232.2,728.0 229.7,731.2 C227.2,734.4 224.8,737.6 222.3,740.8 C219.9,744.0 217.4,747.2 215.0,750.4 C212.5,753.6 210.1,756.7 207.6,760.0 C205.1,763.3 202.3,766.7 199.7,770.0 C197.1,773.3 194.4,776.7 191.8,780.0 C189.2,783.3 186.5,786.7 183.9,790.0 C181.3,793.3 178.6,796.7 176.0,800.0 C173.4,803.3 170.7,806.7 168.1,810.0 C165.5,813.3 162.8,816.7 160.2,820.0 C157.6,823.3 154.9,826.7 152.3,830.0 C149.7,833.3 147.9,835.7 144.4,840.0 C140.9,844.3 135.7,851.0 131.5,856.0 C127.3,861.0 123.7,865.2 119.5,870.0 C115.3,874.8 109.8,881.0 106.3,884.9 C102.8,888.8 100.7,890.8 98.5,893.5 C96.3,896.2 94.2,898.7 93.0,901.3 C91.8,903.9 91.3,906.6 91.1,909.2 C90.9,911.8 91.3,914.9 91.8,917.0 C92.3,919.1 93.3,920.5 94.2,921.7 C95.1,922.9 96.2,923.9 97.3,924.4 C98.4,924.9 99.8,925.0 100.8,924.8 C101.8,924.6 103.0,923.5 103.5,923.3" fill="none" stroke="#00b050" stroke-width="3.10" stroke-linecap="butt" stroke-linejoin="round"/>
<path d="M414.9,524.6 C413.6,526.2 409.6,531.0 406.9,534.2 C404.3,537.4 401.6,540.6 399.0,543.8 C396.3,547.0 393.6,550.2 391.0,553.4 C388.3,556.6 385.7,559.8 383.0,563.0 C380.4,566.2 377.7,569.4 375.1,572.6 C372.4,575.8 369.7,579.0 367.1,582.2 C364.4,585.4 361.8,588.7 359.1,591.9 C356.5,595.1 353.8,598.3 351.1,601.5 C348.5,604.7 345.8,607.9 343.2,611.1 C340.5,614.3 337.9,617.5 335.2,620.7 C332.6,623.9 329.9,627.1 327.2,630.3 C324.6,633.5 321.9,636.7 319.3,639.9 C316.6,643.1 314.3,645.9 311.3,649.5 C308.3,653.1 304.6,657.5 301.3,661.5 C298.0,665.5 294.6,669.5 291.3,673.5 C288.0,677.5 284.3,681.9 281.3,685.5 C278.3,689.1 276.1,691.8 273.5,695.0 C270.9,698.1 268.3,701.3 265.6,704.5 C263.0,707.6 260.4,710.8 257.8,713.9 C255.2,717.1 253.1,719.7 250.0,723.4 C246.9,727.1 242.8,732.1 239.2,736.4 C235.5,740.7 231.7,745.3 228.3,749.4 C224.9,753.5 221.8,757.2 218.5,761.1 C215.2,765.0 212.0,768.9 208.7,772.8 C205.4,776.7 202.2,780.6 198.9,784.5 C195.6,788.5 192.1,792.7 189.1,796.3 C186.1,799.9 183.6,803.0 180.8,806.4 C178.0,809.8 175.7,812.6 172.5,816.5 C169.3,820.4 165.1,825.2 161.4,829.5 C157.8,833.8 154.2,838.1 150.4,842.5 C146.6,846.9 142.6,851.4 138.7,855.9 C134.8,860.4 130.7,865.1 127.0,869.3 C123.3,873.5 120.1,877.1 116.7,881.0 C113.2,884.9 110.0,888.8 106.3,892.7 C102.6,896.6 97.3,901.4 94.6,904.5 C91.9,907.6 91.2,909.4 90.3,911.5 C89.4,913.6 89.1,915.2 89.1,917.0 C89.1,918.8 89.6,920.9 90.3,922.5 C91.0,924.1 92.3,925.8 93.4,926.8 C94.5,927.8 95.8,928.5 96.9,928.6 C98.0,928.7 98.8,928.5 100.1,927.6 C101.4,926.7 103.4,924.5 104.8,923.2 C106.2,921.9 107.7,920.3 108.3,919.7" fill="none" stroke="#843505" stroke-width="3.10" stroke-linecap="butt" stroke-linejoin="round"/>
<path d="M391.0,524.6 C389.2,526.5 383.9,532.4 380.3,536.2 C376.7,540.1 374.0,543.1 369.6,547.9 C365.2,552.7 359.1,559.6 353.9,565.1 C348.7,570.6 343.5,575.3 338.3,580.8 C333.1,586.3 327.8,592.3 322.6,598.0 C317.4,603.7 312.2,609.5 307.0,615.2 C301.8,620.9 295.9,627.4 291.3,632.4 C286.7,637.4 284.2,640.1 279.6,645.1 C275.1,650.1 269.2,656.4 264.0,662.3 C258.8,668.2 252.2,675.7 248.3,680.3 C244.4,684.9 243.1,686.8 240.4,690.1 C237.8,693.4 235.0,696.6 232.6,699.9 C230.2,703.2 228.1,706.6 225.8,710.0 C223.5,713.3 221.8,715.9 219.0,720.0 C216.2,724.1 212.3,729.8 208.9,734.7 C205.6,739.6 202.2,744.5 198.9,749.4 C195.6,754.3 192.3,759.1 189.1,764.0 C185.8,768.9 182.7,773.8 179.4,778.7 C176.2,783.6 172.4,788.8 169.6,793.4 C166.8,798.0 164.9,801.7 162.7,806.1 C160.5,810.5 158.5,815.3 156.4,820.0 C154.3,824.7 151.9,830.1 149.9,834.4 C147.9,838.7 146.2,841.8 144.4,845.5 C142.5,849.3 140.4,852.6 138.8,856.7 C137.2,860.8 135.9,866.5 134.9,870.0 C133.9,873.5 133.1,875.2 132.6,877.8 C132.1,880.4 131.8,883.5 131.8,885.7 C131.8,887.9 132.2,889.5 132.6,891.1 C133.0,892.7 134.2,894.4 134.5,895.1" fill="none" stroke="#066bc1" stroke-width="3.10" stroke-linecap="butt" stroke-linejoin="round"/>
<rect x="85.40" y="524.60" width="450.40" height="417.90" fill="none" stroke="#000" stroke-width="1.50"/>
<line x1="85.40" y1="942.50" x2="85.40" y2="951.00" stroke="#000" stroke-width="1.50"/>
<line x1="75.40" y1="942.50" x2="85.40" y2="942.50" stroke="#000" stroke-width="1.50"/>
<line x1="149.74" y1="942.50" x2="149.74" y2="951.00" stroke="#000" stroke-width="1.50"/>
<line x1="75.40" y1="882.80" x2="85.40" y2="882.80" stroke="#000" stroke-width="1.50"/>
<line x1="214.09" y1="942.50" x2="214.09" y2="951.00" stroke="#000" stroke-width="1.50"/>
<line x1="75.40" y1="823.10" x2="85.40" y2="823.10" stroke="#000" stroke-width="1.50"/>
<line x1="278.43" y1="942.50" x2="278.43" y2="951.00" stroke="#000" stroke-width="1.50"/>
<line x1="75.40" y1="763.40" x2="85.40" y2="763.40" stroke="#000" stroke-width="1.50"/>
<line x1="342.77" y1="942.50" x2="342.77" y2="951.00" stroke="#000" stroke-width="1.50"/>
<line x1="75.40" y1="703.70" x2="85.40" y2="703.70" stroke="#000" stroke-width="1.50"/>
<line x1="407.11" y1="942.50" x2="407.11" y2="951.00" stroke="#000" stroke-width="1.50"/>
<line x1="75.40" y1="644.00" x2="85.40" y2="644.00" stroke="#000" stroke-width="1.50"/>
<line x1="471.46" y1="942.50" x2="471.46" y2="951.00" stroke="#000" stroke-width="1.50"/>
<line x1="75.40" y1="584.30" x2="85.40" y2="584.30" stroke="#000" stroke-width="1.50"/>
<line x1="535.80" y1="942.50" x2="535.80" y2="951.00" stroke="#000" stroke-width="1.50"/>
<line x1="75.40" y1="524.60" x2="85.40" y2="524.60" stroke="#000" stroke-width="1.50"/>
<text x="150.4" y="978.2" text-anchor="middle" font-size="24.7">2</text>
<text x="214.8" y="978.2" text-anchor="middle" font-size="24.7">3</text>
<text x="279.1" y="978.2" text-anchor="middle" font-size="24.7">4</text>
<text x="343.5" y="978.2" text-anchor="middle" font-size="24.7">5</text>
<text x="407.8" y="978.2" text-anchor="middle" font-size="24.7">6</text>
<text x="472.2" y="978.2" text-anchor="middle" font-size="24.7">7</text>
<text x="536.5" y="978.2" text-anchor="middle" font-size="24.7">8</text>
<text x="67.0" y="978.2" text-anchor="end" font-size="24.7">1</text>
<text x="67.0" y="889.9" text-anchor="end" font-size="24.7">2</text>
<text x="67.0" y="830.2" text-anchor="end" font-size="24.7">3</text>
<text x="67.0" y="770.5" text-anchor="end" font-size="24.7">4</text>
<text x="67.0" y="710.8" text-anchor="end" font-size="24.7">5</text>
<text x="67.0" y="651.1" text-anchor="end" font-size="24.7">6</text>
<text x="67.0" y="591.4" text-anchor="end" font-size="24.7">7</text>
<text x="67.0" y="530.7" text-anchor="end" font-size="24.7">8</text>
<text x="125.3" y="579.8" font-size="25.2" stroke="#000" stroke-width="0.2">Stable</text>
<g transform="translate(285.1,597.4) rotate(-49.2)">
<text x="0" y="0" font-style="italic" font-size="25">m</text>
<path d="M23.9,-7.7 H40.6 M23.9,-2.9 H40.6" stroke="#000" stroke-width="1.5" fill="none"/>
<text x="46.7" y="0" font-size="25">3</text>
</g>
<g transform="translate(184.4,700.3) rotate(-52.7)">
<text x="0" y="0" font-style="italic" font-size="25">m</text>
<path d="M23.9,-7.7 H40.6 M23.9,-2.9 H40.6" stroke="#000" stroke-width="1.5" fill="none"/>
<text x="46.7" y="0" font-size="25">2</text>
</g>
<g transform="translate(353.6,627.7) rotate(-43.3)">
<text x="0" y="0" font-style="italic" font-size="25">m</text>
<path d="M23.9,-7.7 H40.6 M23.9,-2.9 H40.6" stroke="#000" stroke-width="1.5" fill="none"/>
<text x="46.7" y="0" font-size="25">5</text>
</g>
<g transform="translate(300.9,732.8) rotate(-49.4)">
<text x="0" y="0" font-style="italic" font-size="25">m</text>
<path d="M23.9,-7.7 H40.6 M23.9,-2.9 H40.6" stroke="#000" stroke-width="1.5" fill="none"/>
<text x="46.7" y="0" font-size="25">4</text>
</g>
<polygon points="672.6,525.4 936.3,525.4 906.6,566.6 881.6,600.7 873.6,611.6 870.0,616.5 867.2,620.4 865.0,624.0 862.8,628.0 860.8,632.3 856.6,643.1 852.5,653.9 846.7,668.9 841.7,681.4 827.0,714.0 793.8,756.7 775.1,780.0 762.2,795.3 750.5,809.4 746.4,816.4 744.0,823.4 741.7,831.7 740.3,837.2 729.4,848.1 722.3,856.3 718.2,863.4 715.9,871.6 714.3,881.0 714.3,889.2 715.9,894.5 718.8,896.2 720.0,896.5 672.6,939.8" fill="#d9d9d9"/>
<polygon points="672.6,939.8 1123.8,525.4 1123.8,939.8" fill="#787878"/>
<path d="M936.3,525.4 C935.1,527.1 931.4,532.3 928.9,535.7 C926.4,539.1 923.9,542.6 921.5,546.0 C919.0,549.4 916.5,552.9 914.0,556.3 C911.5,559.7 909.2,563.0 906.6,566.6 C904.0,570.2 901.0,574.2 898.3,578.0 C895.5,581.8 892.7,585.5 889.9,589.3 C887.2,593.1 884.3,597.0 881.6,600.7 C878.9,604.4 875.5,609.0 873.6,611.6 C871.7,614.2 871.1,615.0 870.0,616.5 C868.9,618.0 868.0,619.1 867.2,620.4 C866.4,621.6 865.7,622.7 865.0,624.0 C864.3,625.3 863.5,626.6 862.8,628.0 C862.1,629.4 861.8,629.8 860.8,632.3 C859.8,634.8 858.0,639.5 856.6,643.1 C855.2,646.7 854.1,649.6 852.5,653.9 C850.9,658.2 848.5,664.3 846.7,668.9 C844.9,673.5 843.8,676.6 841.7,681.4 C839.6,686.2 836.8,692.3 834.4,697.7 C831.9,703.1 829.0,709.3 827.0,714.0 C825.0,718.7 823.9,721.9 822.4,725.8 C820.9,729.8 819.3,733.7 817.8,737.7 C816.3,741.6 814.7,745.0 813.2,749.5 C811.7,754.0 810.3,759.7 808.9,764.8 C807.4,769.8 806.0,774.9 804.5,780.0 C803.0,785.1 801.1,790.8 799.8,795.3 C798.5,799.8 797.7,803.5 796.9,807.0 C796.1,810.5 795.4,814.0 795.1,816.4 C794.8,818.8 794.6,819.7 794.9,821.1 C795.2,822.5 796.6,824.0 796.9,824.6" fill="none" stroke="#cc00cc" stroke-width="3.10" stroke-linecap="butt" stroke-linejoin="round"/>
<path d="M974.3,525.4 C973.1,527.0 969.3,531.8 966.8,535.1 C964.3,538.3 961.8,541.5 959.3,544.7 C956.8,547.9 954.3,551.2 951.8,554.4 C949.3,557.6 946.8,560.8 944.3,564.0 C941.9,567.3 939.4,570.5 936.9,573.7 C934.4,576.9 931.9,580.2 929.4,583.4 C926.9,586.6 924.4,589.8 921.9,593.0 C919.4,596.3 916.9,599.5 914.4,602.7 C911.9,605.9 909.4,609.1 906.9,612.4 C904.4,615.6 901.9,618.8 899.4,622.0 C896.9,625.2 894.4,628.5 891.9,631.7 C889.4,634.9 886.9,638.1 884.5,641.4 C882.0,644.6 879.5,647.8 877.0,651.0 C874.5,654.2 872.0,657.5 869.5,660.7 C867.0,663.9 864.5,667.1 862.0,670.3 C859.5,673.6 857.3,676.5 854.5,680.0 C851.7,683.5 848.4,687.6 845.3,691.3 C842.3,695.1 839.2,698.9 836.2,702.7 C833.1,706.4 829.9,710.3 827.0,714.0 C824.1,717.7 821.5,721.1 818.7,724.7 C815.9,728.2 813.2,731.8 810.4,735.4 C807.6,738.9 804.9,742.5 802.1,746.0 C799.3,749.6 796.7,753.0 793.8,756.7 C790.9,760.4 787.6,764.5 784.5,768.4 C781.3,772.2 778.8,775.5 775.1,780.0 C771.4,784.5 766.3,790.4 762.2,795.3 C758.1,800.2 753.1,805.9 750.5,809.4 C747.9,812.9 747.5,814.1 746.4,816.4 C745.3,818.7 744.8,820.8 744.0,823.4 C743.2,826.0 742.5,828.8 741.7,831.7 C740.9,834.7 740.0,838.0 739.3,841.1 C738.6,844.2 737.9,847.3 737.3,850.4 C736.7,853.5 736.2,856.8 735.8,859.8 C735.4,862.8 735.0,865.8 735.0,868.1 C735.0,870.5 735.0,872.2 735.5,873.9 C736.0,875.6 737.4,877.6 737.8,878.4" fill="none" stroke="#00b050" stroke-width="3.10" stroke-linecap="butt" stroke-linejoin="round"/>
<path d="M999.9,525.4 C998.6,527.0 994.6,531.8 992.0,535.1 C989.3,538.3 986.7,541.5 984.0,544.7 C981.4,547.9 978.7,551.2 976.1,554.4 C973.4,557.6 970.8,560.8 968.1,564.0 C965.5,567.3 962.8,570.5 960.2,573.7 C957.5,576.9 954.9,580.2 952.2,583.4 C949.6,586.6 946.9,589.8 944.3,593.0 C941.6,596.3 939.0,599.5 936.3,602.7 C933.7,605.9 931.1,609.1 928.4,612.4 C925.8,615.6 923.1,618.8 920.5,622.0 C917.8,625.2 915.2,628.5 912.5,631.7 C909.9,634.9 907.2,638.1 904.6,641.4 C901.9,644.6 899.3,647.8 896.6,651.0 C894.0,654.2 891.3,657.5 888.7,660.7 C886.0,663.9 883.4,667.1 880.7,670.3 C878.1,673.6 875.5,676.7 872.8,680.0 C870.1,683.3 867.1,686.7 864.3,690.0 C861.4,693.4 858.6,696.7 855.7,700.1 C852.9,703.4 850.0,706.7 847.2,710.1 C844.3,713.4 841.5,716.8 838.6,720.1 C835.8,723.5 832.9,726.8 830.1,730.1 C827.2,733.5 824.4,736.8 821.5,740.2 C818.7,743.5 815.8,746.9 813.0,750.2 C810.2,753.5 807.6,756.8 804.9,760.1 C802.2,763.4 799.4,766.8 796.7,770.1 C794.0,773.4 791.5,776.6 788.6,780.0 C785.7,783.4 782.5,787.0 779.5,790.5 C776.5,794.1 773.9,797.1 770.4,801.1 C766.9,805.1 762.6,810.1 758.7,814.6 C754.8,819.1 750.4,824.2 747.0,828.1 C743.6,832.0 741.1,834.8 738.2,838.1 C735.3,841.4 732.0,845.1 729.4,848.1 C726.8,851.1 724.2,853.8 722.3,856.3 C720.4,858.8 719.3,860.8 718.2,863.4 C717.1,866.0 716.5,868.7 715.9,871.6 C715.2,874.5 714.6,878.1 714.3,881.0 C714.0,883.9 714.0,887.0 714.3,889.2 C714.6,891.5 715.1,893.3 715.9,894.5 C716.6,895.7 718.3,895.9 718.8,896.2" fill="none" stroke="#7f6000" stroke-width="3.10" stroke-linecap="butt" stroke-linejoin="round"/>
<rect x="672.60" y="525.40" width="451.20" height="414.40" fill="none" stroke="#1a1a1a" stroke-width="1.20"/>
<line x1="672.60" y1="939.80" x2="672.60" y2="948.30" stroke="#1a1a1a" stroke-width="1.25"/>
<line x1="662.60" y1="939.80" x2="672.60" y2="939.80" stroke="#1a1a1a" stroke-width="1.25"/>
<line x1="737.06" y1="939.80" x2="737.06" y2="948.30" stroke="#1a1a1a" stroke-width="1.25"/>
<line x1="662.60" y1="880.60" x2="672.60" y2="880.60" stroke="#1a1a1a" stroke-width="1.25"/>
<line x1="801.51" y1="939.80" x2="801.51" y2="948.30" stroke="#1a1a1a" stroke-width="1.25"/>
<line x1="662.60" y1="821.40" x2="672.60" y2="821.40" stroke="#1a1a1a" stroke-width="1.25"/>
<line x1="865.97" y1="939.80" x2="865.97" y2="948.30" stroke="#1a1a1a" stroke-width="1.25"/>
<line x1="662.60" y1="762.20" x2="672.60" y2="762.20" stroke="#1a1a1a" stroke-width="1.25"/>
<line x1="930.43" y1="939.80" x2="930.43" y2="948.30" stroke="#1a1a1a" stroke-width="1.25"/>
<line x1="662.60" y1="703.00" x2="672.60" y2="703.00" stroke="#1a1a1a" stroke-width="1.25"/>
<line x1="994.89" y1="939.80" x2="994.89" y2="948.30" stroke="#1a1a1a" stroke-width="1.25"/>
<line x1="662.60" y1="643.80" x2="672.60" y2="643.80" stroke="#1a1a1a" stroke-width="1.25"/>
<line x1="1059.34" y1="939.80" x2="1059.34" y2="948.30" stroke="#1a1a1a" stroke-width="1.25"/>
<line x1="662.60" y1="584.60" x2="672.60" y2="584.60" stroke="#1a1a1a" stroke-width="1.25"/>
<line x1="1123.80" y1="939.80" x2="1123.80" y2="948.30" stroke="#1a1a1a" stroke-width="1.25"/>
<line x1="662.60" y1="525.40" x2="672.60" y2="525.40" stroke="#1a1a1a" stroke-width="1.25"/>
<text x="737.8" y="978.2" text-anchor="middle" font-size="24.7">2</text>
<text x="802.2" y="978.2" text-anchor="middle" font-size="24.7">3</text>
<text x="866.7" y="978.2" text-anchor="middle" font-size="24.7">4</text>
<text x="931.1" y="978.2" text-anchor="middle" font-size="24.7">5</text>
<text x="995.6" y="978.2" text-anchor="middle" font-size="24.7">6</text>
<text x="1060.0" y="978.2" text-anchor="middle" font-size="24.7">7</text>
<text x="1124.5" y="978.2" text-anchor="middle" font-size="24.7">8</text>
<text x="651.3" y="978.2" text-anchor="end" font-size="24.7">1</text>
<text x="651.3" y="887.3" text-anchor="end" font-size="24.7">2</text>
<text x="651.3" y="828.1" text-anchor="end" font-size="24.7">3</text>
<text x="651.3" y="768.9" text-anchor="end" font-size="24.7">4</text>
<text x="651.3" y="709.7" text-anchor="end" font-size="24.7">5</text>
<text x="651.3" y="650.5" text-anchor="end" font-size="24.7">6</text>
<text x="651.3" y="591.3" text-anchor="end" font-size="24.7">7</text>
<text x="651.3" y="530.9" text-anchor="end" font-size="24.7">8</text>
<text x="727.5" y="579.8" font-size="25.2" stroke="#000" stroke-width="0.2">Stable</text>
<g transform="translate(876.4,586.5) rotate(-50.2)">
<text x="0" y="0" font-style="italic" font-size="25">m</text>
<path d="M23.9,-7.7 H40.6 M23.9,-2.9 H40.6" stroke="#000" stroke-width="1.5" fill="none"/>
<text x="46.7" y="0" font-size="25">3</text>
</g>
<g transform="translate(921.8,655.7) rotate(-43.0)">
<text x="0" y="0" font-style="italic" font-size="25">m</text>
<path d="M23.9,-7.7 H40.6 M23.9,-2.9 H40.6" stroke="#000" stroke-width="1.5" fill="none"/>
<text x="46.7" y="0" font-size="25">5</text>
</g>
<g transform="translate(756.7,785.8) rotate(-49.5)">
<text x="0" y="0" font-style="italic" font-size="25">m</text>
<path d="M23.9,-7.7 H40.6 M23.9,-2.9 H40.6" stroke="#000" stroke-width="1.5" fill="none"/>
<text x="46.7" y="0" font-size="25">4</text>
</g>
<text x="-0.3" y="24.8" font-size="29">(<tspan font-style="italic">a</tspan><tspan dx="1.0">)</tspan></text>
<text x="587.6" y="24.8" font-size="29">(<tspan font-style="italic">b</tspan><tspan dx="0.8">)</tspan></text>
<text x="-0.3" y="535.7" font-size="29">(<tspan font-style="italic">c</tspan><tspan dx="0.9">)</tspan></text>
<text x="587.6" y="535.7" font-size="29">(<tspan font-style="italic">d</tspan><tspan dx="3.5">)</tspan></text>
<text x="7.8" y="230.8" font-size="29" font-style="italic">R</text>
<text x="26.1" y="235.1" font-size="20">2</text>
<text x="7.8" y="741.4" font-size="29" font-style="italic">R</text>
<text x="26.1" y="745.7" font-size="20">2</text>
<text x="298.8" y="1017.3" font-size="29" font-style="italic">R</text>
<text x="317.1" y="1021.6" font-size="20">1</text>
<text x="886.3" y="1017.3" font-size="29" font-style="italic">R</text>
<text x="904.6" y="1021.6" font-size="20">1</text>
</svg></body></html>
